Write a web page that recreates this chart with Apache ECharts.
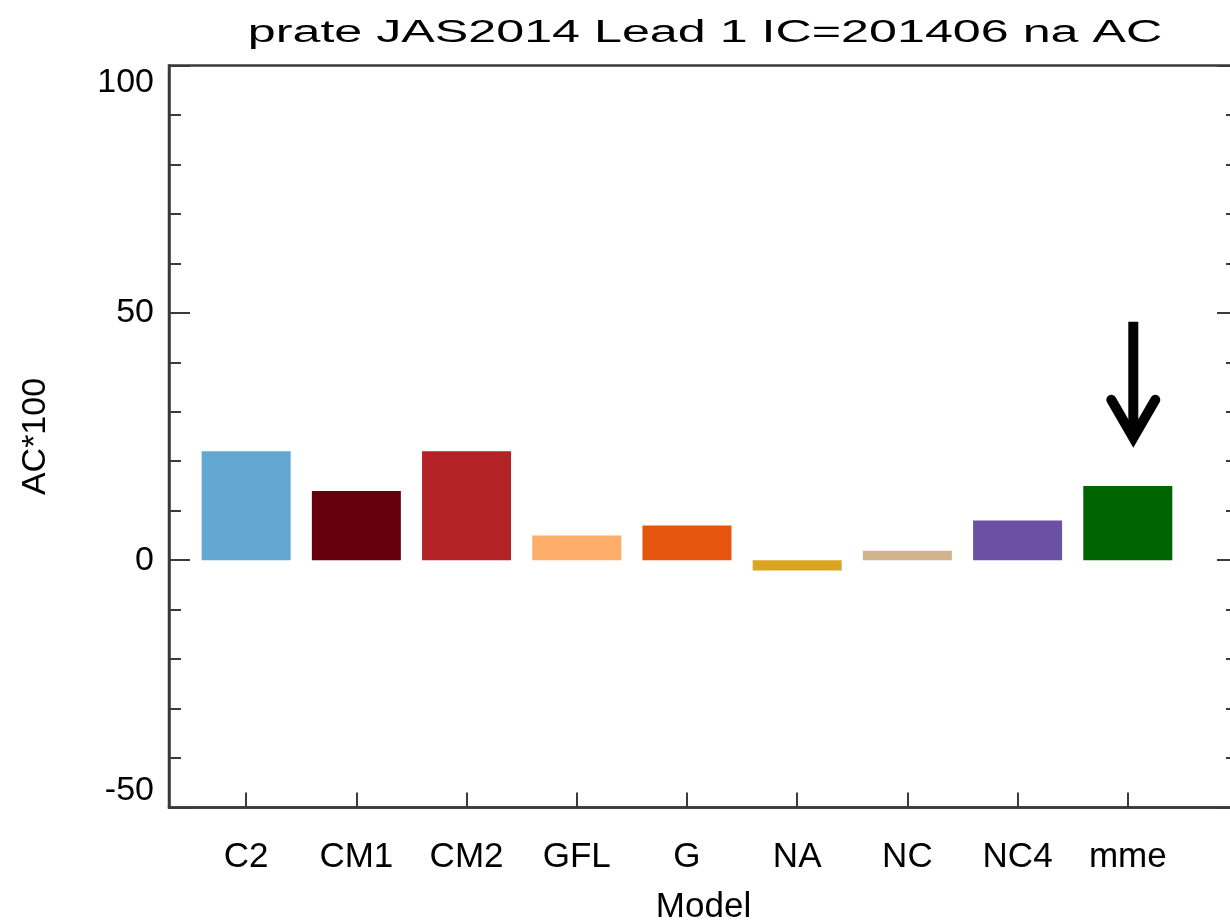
<!DOCTYPE html>
<html>
<head>
<meta charset="utf-8">
<script src="https://cdn.jsdelivr.net/npm/echarts@6/dist/echarts.min.js"></script>
<style>
	html, body { margin: 0; padding: 0; background: #fff; }
	#main { width: 1230px; height: 920px; }
</style>
</head>
<body>
<div id="main"></div>
<script>
	// data
	var models = ['C2', 'CM1', 'CM2', 'GFL', 'G', 'NA', 'NC', 'NC4', 'mme'];
	var acValues = [22, 14, 22, 5, 7, -2.1, 1.9, 8, 15];
	var barColors = ['#63a8d1', '#67000d', '#b22226', '#fdae6b', '#e6550d', '#daa520', '#d2b48c', '#6a51a3', '#006400'];
	var yTicks = [-50, 0, 50, 100];
	// arrow over mme: x position, top of shaft, tip (in AC*100 units)
	var arrowMark = [9.05, 48.2, 22.3];

	var xPos = models.map(function (m, i) { return i + 1; });
	var barData = acValues.map(function (v, i) { return [xPos[i], v]; });

	var font = 'Liberation Sans';
	var axisColor = '#3a3a3a';

	var chart = echarts.init(document.getElementById('main'));

	var yAxisBase = {
		type: 'value',
		min: yTicks[0],
		max: yTicks[yTicks.length - 1],
		interval: 50,
		axisLine: { show: true, lineStyle: { color: axisColor, width: 2.5 } },
		axisTick: { show: true, inside: true, length: 21, lineStyle: { color: axisColor, width: 2 } },
		minorTick: { show: true, splitNumber: 5, length: 12, lineStyle: { color: axisColor, width: 2 } },
		splitLine: { show: false }
	};

	var option = {
		animation: false,
		backgroundColor: '#fff',
		grid: {
			left: 169,
			right: -8,
			top: 65.5,
			bottom: 112.5,
			outerBoundsMode: 'none',
			containLabel: false,
			show: true,
			borderColor: axisColor,
			borderWidth: 2.5,
			backgroundColor: 'transparent'
		},
		graphic: [{
			type: 'text',
			x: 705,
			y: 33,
			scaleX: 1.62,
			style: {
				text: 'prate JAS2014 Lead 1 IC=201406 na AC',
				fontFamily: font,
				fontSize: 31,
				fill: '#000',
				align: 'center',
				verticalAlign: 'middle'
			}
		}],
		xAxis: {
			type: 'value',
			min: 0.3,
			max: 10,
			name: 'Model',
			nameLocation: 'middle',
			nameGap: 82,
			nameTextStyle: { fontFamily: font, fontSize: 35, color: '#000' },
			axisLine: { show: true, onZero: false, lineStyle: { color: axisColor, width: 2.5 } },
			axisTick: { show: true, inside: true, length: 15, customValues: xPos, lineStyle: { color: axisColor, width: 2 } },
			axisLabel: {
				customValues: xPos,
				margin: 32,
				fontFamily: font,
				fontSize: 35,
				color: '#000',
				formatter: function (v) { return models[Math.round(v) - 1] || ''; }
			},
			splitLine: { show: false }
		},
		yAxis: [
			Object.assign({}, yAxisBase, {
				position: 'left',
				name: 'AC*100',
				nameLocation: 'middle',
				nameGap: 116,
				nameTextStyle: { fontFamily: font, fontSize: 34, color: '#000' },
				axisLabel: {
					margin: 15,
					fontFamily: font,
					fontSize: 34,
					color: '#000',
					verticalAlignMaxLabel: 'top',
					verticalAlignMinLabel: 'bottom'
				}
			}),
			Object.assign({}, yAxisBase, {
				position: 'right',
				axisLabel: { show: false }
			})
		],
		series: [{
			type: 'bar',
			data: barData,
			barWidth: 89,
			itemStyle: {
				color: function (p) { return barColors[p.dataIndex]; }
			}
		}, {
			type: 'custom',
			data: [arrowMark],
			encode: { x: 0, y: [1, 2] },
			renderItem: function (params, api) {
				var top = api.coord([api.value(0), api.value(1)]);
				var tip = api.coord([api.value(0), api.value(2)]);
				var vx = tip[0], vy = tip[1] - 12;
				return {
					type: 'group',
					children: [{
						type: 'line',
						shape: { x1: top[0], y1: top[1], x2: vx, y2: vy },
						style: { stroke: '#000', lineWidth: 10, lineCap: 'butt' }
					}, {
						type: 'polyline',
						shape: { points: [[vx - 22, vy - 38], [vx, vy], [vx + 22, vy - 38]] },
						style: { stroke: '#000', lineWidth: 10, lineCap: 'round', lineJoin: 'miter', fill: null }
					}]
				};
			}
		}]
	};

	chart.setOption(option);
	window.addEventListener('resize', function () {
		chart.resize();
	});
</script>
</body>
</html>
